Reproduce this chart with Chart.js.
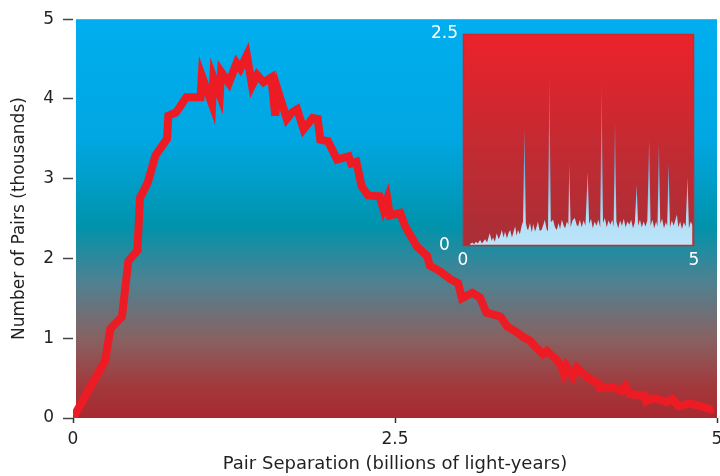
<!DOCTYPE html>
<html>
<head>
<meta charset="utf-8">
<script src="https://cdn.jsdelivr.net/npm/chart.js@4"></script>
<style>
  html, body { margin: 0; padding: 0; background: #fff; overflow: hidden; }
  #wrap { position: relative; width: 720px; height: 476px; overflow: hidden; }
  #main { position: absolute; left: 0; top: 0; }
  #inset { position: absolute; left: 420px; top: 14px; }
</style>
</head>
<body>
<div id="wrap">
  <canvas id="main" width="745" height="476"></canvas>
  <canvas id="inset" width="290" height="262"></canvas>
</div>
<script>
// -------- data -----------------------------------------
// main curve: pair separation (billions of light-years) vs number of pairs (thousands)
const sepX = [0, 0.25, 0.29, 0.38, 0.43, 0.50, 0.52, 0.58, 0.64, 0.73, 0.74, 0.80, 0.88, 0.99, 1.00,
  1.08, 1.09, 1.14, 1.15, 1.21, 1.27, 1.30, 1.35, 1.39, 1.43, 1.48, 1.54, 1.57, 1.59, 1.66, 1.70,
  1.74, 1.79, 1.86, 1.90, 1.92, 1.98, 2.05, 2.14, 2.16, 2.20, 2.24, 2.29, 2.38, 2.41, 2.44, 2.46,
  2.54, 2.58, 2.67, 2.75, 2.77, 2.85, 2.93, 2.99, 3.02, 3.10, 3.16, 3.21, 3.32, 3.37, 3.44, 3.50,
  3.55, 3.59, 3.65, 3.68, 3.76, 3.79, 3.81, 3.83, 3.88, 3.91, 3.97, 4.04, 4.08, 4.09, 4.18, 4.26,
  4.29, 4.32, 4.44, 4.45, 4.52, 4.61, 4.65, 4.70, 4.79, 4.87, 4.95, 4.97];
const pairsK = [0, 0.72, 1.12, 1.27, 1.97, 2.10, 2.76, 2.95, 3.29, 3.50, 3.79, 3.83, 4.02, 4.02, 4.29,
  3.93, 4.27, 4.05, 4.34, 4.20, 4.45, 4.38, 4.55, 4.17, 4.30, 4.21, 4.27, 3.79, 4.11, 3.75, 3.83,
  3.87, 3.62, 3.76, 3.75, 3.49, 3.47, 3.24, 3.28, 3.19, 3.21, 2.91, 2.79, 2.78, 2.62, 2.75, 2.54,
  2.57, 2.40, 2.15, 2.03, 1.91, 1.84, 1.74, 1.69, 1.50, 1.57, 1.51, 1.32, 1.27, 1.15, 1.08, 1.01,
  0.97, 0.89, 0.80, 0.84, 0.72, 0.65, 0.56, 0.65, 0.52, 0.63, 0.54, 0.46, 0.44, 0.38, 0.39, 0.34,
  0.40, 0.30, 0.28, 0.21, 0.25, 0.20, 0.24, 0.15, 0.18, 0.15, 0.11, 0.12];

// inset: noisy spectrum with spikes
const insetX = [0.15, 0.20, 0.24, 0.28, 0.32, 0.37, 0.41, 0.45, 0.48, 0.52, 0.58, 0.62, 0.65, 0.69,
  0.73, 0.77, 0.81, 0.84, 0.88, 0.91, 0.95, 0.99, 1.02, 1.06, 1.10, 1.13, 1.16, 1.19, 1.23, 1.27,
  1.30, 1.33, 1.36, 1.39, 1.41, 1.45, 1.49, 1.52, 1.56, 1.60, 1.62, 1.66, 1.70, 1.74, 1.77, 1.81,
  1.84, 1.87, 1.90, 1.95, 1.99, 2.03, 2.07, 2.10, 2.14, 2.18, 2.21, 2.25, 2.28, 2.30, 2.33, 2.37,
  2.42, 2.46, 2.49, 2.53, 2.57, 2.61, 2.65, 2.70, 2.73, 2.77, 2.81, 2.85, 2.89, 2.93, 2.97, 3.00,
  3.03, 3.07, 3.11, 3.15, 3.19, 3.23, 3.26, 3.29, 3.32, 3.36, 3.40, 3.44, 3.48, 3.52, 3.56, 3.60,
  3.64, 3.68, 3.72, 3.76, 3.79, 3.83, 3.87, 3.91, 3.95, 3.99, 4.03, 4.06, 4.10, 4.14, 4.18, 4.21,
  4.24, 4.27, 4.31, 4.35, 4.39, 4.42, 4.45, 4.48, 4.52, 4.56, 4.60, 4.63, 4.66, 4.70, 4.74, 4.78,
  4.82, 4.86, 4.89, 4.93, 4.97];
const insetY = [0.02, 0.04, 0.02, 0.05, 0.03, 0.07, 0.03, 0.06, 0.08, 0.04, 0.15, 0.06, 0.10, 0.05,
  0.15, 0.08, 0.13, 0.19, 0.10, 0.17, 0.09, 0.16, 0.19, 0.10, 0.18, 0.23, 0.12, 0.19, 0.14, 0.24,
  0.29, 1.39, 0.27, 0.20, 0.19, 0.27, 0.16, 0.26, 0.17, 0.24, 0.29, 0.18, 0.19, 0.25, 0.31, 0.20,
  0.17, 2.04, 0.28, 0.31, 0.22, 0.19, 0.27, 0.20, 0.31, 0.24, 0.21, 0.29, 0.25, 0.98, 0.22, 0.30,
  0.33, 0.25, 0.23, 0.31, 0.22, 0.30, 0.24, 0.88, 0.26, 0.32, 0.21, 0.29, 0.24, 0.31, 0.22, 1.92,
  0.27, 0.33, 0.22, 0.30, 0.25, 0.31, 0.23, 1.47, 0.29, 0.21, 0.30, 0.24, 0.32, 0.22, 0.29, 0.25,
  0.31, 0.21, 0.28, 0.72, 0.24, 0.31, 0.22, 0.29, 0.23, 0.30, 1.27, 0.24, 0.31, 0.21, 0.29, 0.23,
  1.21, 0.26, 0.32, 0.21, 0.28, 0.24, 0.98, 0.22, 0.30, 0.24, 0.31, 0.37, 0.22, 0.29, 0.20, 0.28,
  0.23, 0.82, 0.21, 0.29, 0.24];

const mainTicksY = [0, 1, 2, 3, 4, 5];
const mainTicksX = [0, 2.5, 5];
const insetTicksY = [0, 2.5];
const insetTicksX = [0, 5];

const FONT = '"DejaVu Sans", sans-serif';
const INK = '#231f20';

// -------- plot-area backgrounds --------------------
const mainBg = {
  id: 'mainBg',
  beforeDraw(chart) {
    const {ctx, chartArea: a} = chart;
    const g = ctx.createLinearGradient(0, a.top, 0, a.bottom);
    g.addColorStop(0, '#00aeef');
    g.addColorStop(0.30, '#00a7e2');
    g.addColorStop(0.52, '#0093ab');
    g.addColorStop(0.66, '#4f8191');
    g.addColorStop(0.80, '#876262');
    g.addColorStop(0.92, '#a2393c');
    g.addColorStop(1, '#a8292f');
    ctx.save();
    ctx.fillStyle = g;
    ctx.fillRect(a.left + 3, a.top, a.right - a.left - 3, a.bottom - a.top);
    ctx.restore();
  },
  beforeDatasetsDraw(chart) {
    // keep the sharp joins from shooting out too far
    chart.ctx.miterLimit = 6;
  }
};

const insetBg = {
  id: 'insetBg',
  beforeDraw(chart) {
    const {ctx, chartArea: a} = chart;
    const g = ctx.createLinearGradient(0, a.top, 0, a.bottom);
    g.addColorStop(0, '#ec222b');
    g.addColorStop(0.5, '#c52a32');
    g.addColorStop(1, '#a92f37');
    ctx.save();
    ctx.fillStyle = g;
    ctx.fillRect(a.left, a.top, a.right - a.left, a.bottom - a.top);
    ctx.restore();
  },
  afterDatasetsDraw(chart) {
    const {ctx, chartArea: a} = chart;
    ctx.save();
    ctx.strokeStyle = '#d8232b';
    ctx.lineWidth = 1.5;
    ctx.strokeRect(a.left + 0.5, a.top + 0.5, a.right - a.left - 1, a.bottom - a.top - 1);
    ctx.restore();
  }
};

// -------- main chart --------------------
const mainData = sepX.map((x, i) => ({x: x, y: pairsK[i]}));

new Chart(document.getElementById('main'), {
  type: 'line',
  data: {
    datasets: [{
      data: mainData,
      borderColor: '#ed1c24',
      borderWidth: 8,
      borderJoinStyle: 'miter',
      pointRadius: 0,
      tension: 0,
      fill: false
    }]
  },
  options: {
    responsive: false,
    animation: false,
    layout: { padding: { top: 18, right: 28, left: 0, bottom: 0 } },
    plugins: { legend: { display: false }, tooltip: { enabled: false } },
    scales: {
      x: {
        type: 'linear',
        min: 0, max: 5,
        afterBuildTicks: s => { s.ticks = mainTicksX.map(v => ({value: v})); },
        afterFit: s => { s.height = 58; },
        border: { display: false },
        grid: { drawOnChartArea: false, drawTicks: true, tickLength: 5, tickColor: '#333', tickWidth: 1.5 },
        ticks: { color: INK, font: { family: FONT, size: 17 }, padding: 6, maxRotation: 0 },
        title: { display: true, text: 'Pair Separation (billions of light-years)', color: INK,
                 font: { family: FONT, size: 18 }, padding: { top: 0, bottom: 1 } }
      },
      y: {
        min: 0, max: 5,
        afterBuildTicks: s => { s.ticks = mainTicksY.map(v => ({value: v})); },
        afterFit: s => { s.width = 73; },
        border: { display: false },
        grid: { drawOnChartArea: false, drawTicks: true, tickLength: 10, tickColor: '#444', tickWidth: 1.5 },
        ticks: { color: INK, font: { family: FONT, size: 17 }, padding: 9 },
        title: { display: true, text: 'Number of Pairs (thousands)', color: INK,
                 font: { family: FONT, size: 17 }, padding: { top: 9, bottom: 0 } }
      }
    }
  },
  plugins: [mainBg]
});

// -------- inset chart --------------------
const insetData = insetX.map((x, i) => ({x: x, y: insetY[i]}));

new Chart(document.getElementById('inset'), {
  type: 'line',
  data: {
    datasets: [{
      data: insetData,
      borderWidth: 0,
      pointRadius: 0,
      tension: 0,
      fill: 'origin',
      backgroundColor: ctx => {
        const a = ctx.chart.chartArea;
        if (!a) return '#b8e2f8';
        const g = ctx.chart.ctx.createLinearGradient(0, a.bottom, 0, a.top);
        g.addColorStop(0, '#bde5f9');
        g.addColorStop(0.14, '#b0def6');
        g.addColorStop(0.4, 'rgba(90,190,235,0.9)');
        g.addColorStop(1, 'rgba(120,170,210,0.15)');
        return g;
      }
    }]
  },
  options: {
    responsive: false,
    animation: false,
    layout: { padding: { top: 20, right: 16, left: 0, bottom: 0 } },
    plugins: { legend: { display: false }, tooltip: { enabled: false } },
    scales: {
      x: {
        type: 'linear',
        min: 0, max: 5,
        afterBuildTicks: s => { s.ticks = insetTicksX.map(v => ({value: v})); },
        afterFit: s => { s.height = 30; },
        border: { display: false },
        grid: { display: false, drawTicks: false },
        ticks: { color: '#fff', font: { family: FONT, size: 17 }, padding: 4, maxRotation: 0 }
      },
      y: {
        min: 0, max: 2.5,
        afterBuildTicks: s => { s.ticks = insetTicksY.map(v => ({value: v})); },
        afterFit: s => { s.width = 43; },
        border: { display: false },
        grid: { display: false, drawTicks: false },
        ticks: { color: '#fff', font: { family: FONT, size: 17 }, padding: 5, crossAlign: 'center' }
      }
    }
  },
  plugins: [insetBg]
});
</script>
</body>
</html>
